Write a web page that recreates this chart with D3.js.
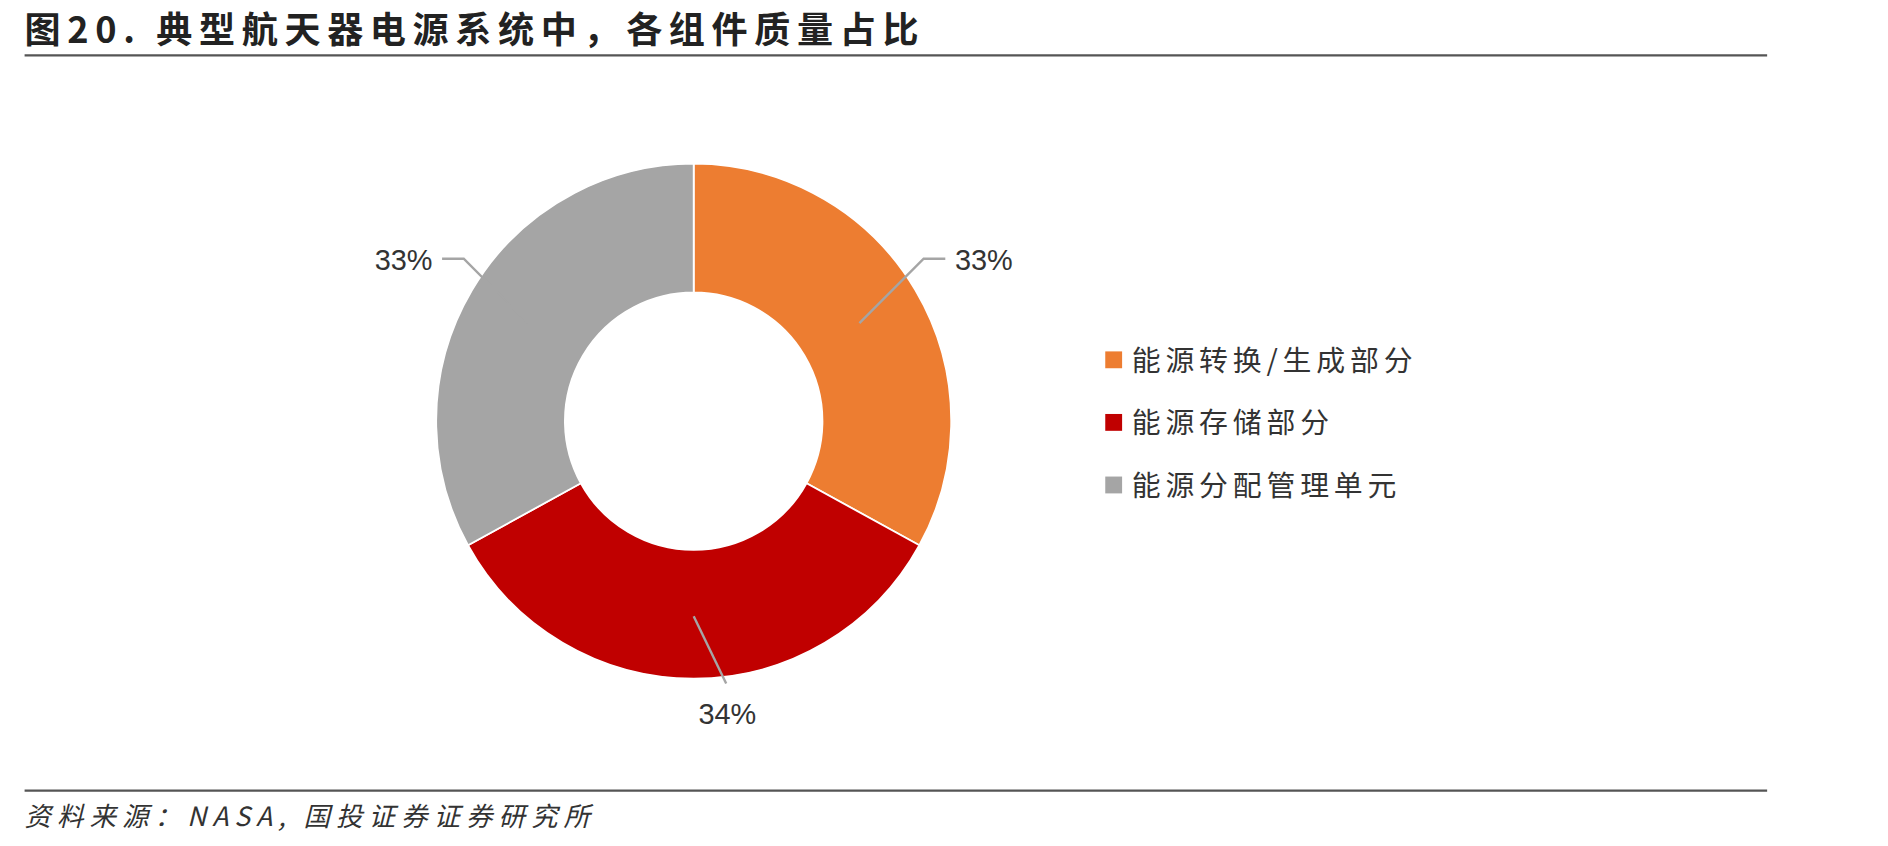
<!DOCTYPE html>
<html><head><meta charset="utf-8">
<script src="https://cdn.jsdelivr.net/npm/d3@7"></script>
<style>body{margin:0;background:#fff}</style></head>
<body><svg id="c" width="1888" height="846" viewBox="0 0 1568 703"></svg>
<script>
const categories=["能源转换/生成部分","能源存储部分","能源分配管理单元"];
const values=[33,34,33];
const colors=["#ED7D31","#C00000","#A5A5A5"];
const title="图20. 典型航天器电源系统中，各组件质量占比";
const source="资料来源：NASA, 国投证券证券研究所";
const font="'Noto Sans CJK SC', 'Noto Sans', sans-serif";
const svg=d3.select("#c");
svg.append("text").attr("x",20).attr("y",36).attr("font-family",font).attr("font-weight","bold").attr("font-size",30).attr("letter-spacing",5.5).attr("fill","#222").text(title);
svg.append("line").attr("x1",20).attr("x2",1468).attr("y1",46).attr("y2",46).attr("stroke","#555").attr("stroke-width",2);
svg.append("line").attr("x1",20).attr("x2",1468).attr("y1",657).attr("y2",657).attr("stroke","#555").attr("stroke-width",2);
svg.append("text").attr("x",20).attr("y",686).attr("font-family",font).attr("font-style","italic").attr("font-size",22).attr("letter-spacing",5).attr("fill","#333").text(source);
const cx=576,cy=350,R=214,r=107;
const pie=d3.pie().sort(null).value(d=>d)(values);
const arc=d3.arc().innerRadius(r).outerRadius(R);
const g=svg.append("g").attr("transform",`translate(${cx},${cy})`);
g.selectAll("path").data(pie).join("path").attr("d",arc).attr("fill",(d,i)=>colors[i]).attr("stroke","#fff").attr("stroke-width",1.5);
pie.forEach((d,i)=>{
  const a=(d.startAngle+d.endAngle)/2;
  const p0=[160*Math.sin(a),-160*Math.cos(a)];
  let p1=[222*Math.sin(a),-222*Math.cos(a)-22];
  let s=Math.sin(a)>0.1?1:(Math.sin(a)<-0.1?-1:0);
  let lx,ly,anchor,p2;
  if(s===0){p1=[27,218];p2=p1;lx=28;ly=252;anchor="middle";p0[1]=162;}
  else{p2=[p1[0]+s*18,p1[1]];lx=p2[0]+s*8;ly=p2[1]+9;anchor=s>0?"start":"end";}
  g.append("polyline").attr("points",[p0,p1,p2].map(p=>p.join(",")).join(" ")).attr("fill","none").attr("stroke","#A5A5A5").attr("stroke-width",2);
  g.append("text").attr("x",lx).attr("y",ly).attr("text-anchor",anchor).attr("font-family","'Liberation Sans', Arial, sans-serif").attr("font-size",24).attr("fill","#333").text(Math.round(d.value)+"%");
});
const lg=svg.append("g");
categories.forEach((c,i)=>{
  const y=300+i*52;
  lg.append("rect").attr("x",918).attr("y",y-8).attr("width",14).attr("height",14).attr("fill",colors[i]);
  lg.append("text").attr("x",940).attr("y",y+8).attr("font-family",font).attr("font-size",24).attr("letter-spacing",4).attr("fill","#333").text(c);
});
</script></body></html>
